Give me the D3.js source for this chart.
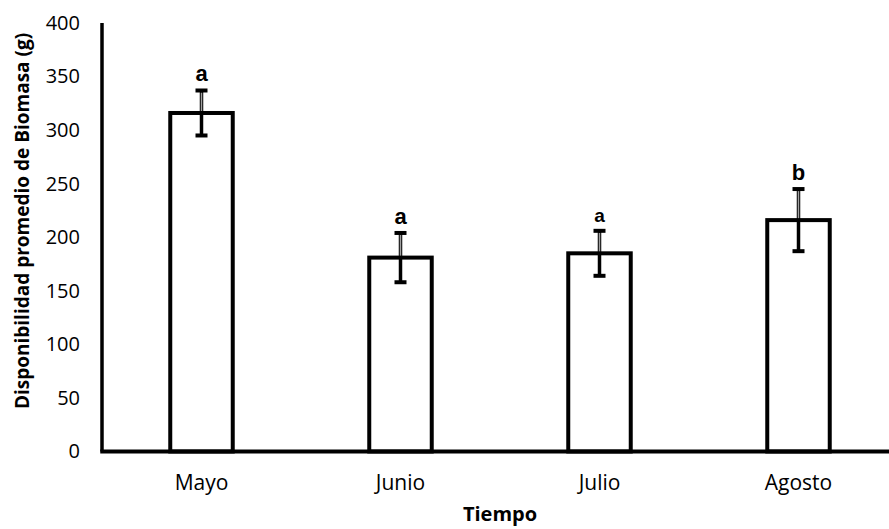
<!DOCTYPE html>
<html>
<head>
<meta charset="utf-8">
<script src="https://cdn.jsdelivr.net/npm/d3@7"></script>
<style>
  html, body { margin: 0; padding: 0; background: #fff; }
  svg { display: block; }
</style>
</head>
<body>
<svg id="chart" width="889" height="529"></svg>
<script>
// Monthly mean biomass availability with error bars and significance letters
const months = ["Mayo", "Junio", "Julio", "Agosto"];
const means = [316, 181, 185, 216];
const errors = [21, 23, 21, 29];
const letters = ["a", "a", "a", "b"];
const letterSizes = [22, 22, 19, 22];
const yTicks = [0, 50, 100, 150, 200, 250, 300, 350, 400];

const svg = d3.select("#chart");
const plotLeft = 102, plotRight = 898, plotTop = 23, plotBottom = 451.5;

const x = d3.scaleBand()
  .domain(months)
  .range([plotLeft, plotRight])
  .paddingInner(0.686)
  .paddingOuter(0.343);

const y = d3.scaleLinear().domain([0, 400]).range([plotBottom, plotTop]);

const labelFont = "'Open Sans', 'Noto Sans', sans-serif";

// Y axis: tick labels only, no tick marks
const yAxis = d3.axisLeft(y).tickValues(yTicks).tickSize(0).tickPadding(22);
const gy = svg.append("g").attr("transform", `translate(${plotLeft},0)`).call(yAxis);
gy.select(".domain").remove();
gy.selectAll("text")
  .attr("font-family", labelFont)
  .attr("font-size", 20)
  .attr("fill", "#000");

// X axis labels
const xAxis = d3.axisBottom(x).tickSize(0).tickPadding(24);
const gx = svg.append("g").attr("transform", `translate(0,${plotBottom})`).call(xAxis);
gx.select(".domain").remove();
gx.selectAll("text")
  .attr("font-family", labelFont)
  .attr("font-size", 21)
  .attr("fill", "#000");

// Bars
const bars = months.map((m, i) => ({ m, v: means[i], e: errors[i], l: letters[i], s: letterSizes[i] }));

svg.append("g").selectAll("rect")
  .data(bars)
  .join("rect")
  .attr("x", d => x(d.m))
  .attr("y", d => y(d.v))
  .attr("width", x.bandwidth())
  .attr("height", d => y(0) - y(d.v))
  .attr("fill", "#fff")
  .attr("stroke", "#000")
  .attr("stroke-width", 4);

// Error bars
const eb = svg.append("g").selectAll("g")
  .data(bars)
  .join("g")
  .attr("transform", d => `translate(${x(d.m) + x.bandwidth() / 2},0)`);

eb.append("line")
  .attr("y1", d => y(d.v + d.e))
  .attr("y2", d => y(d.v - d.e))
  .attr("stroke", "#000")
  .attr("stroke-width", 3.5);

eb.append("line")
  .attr("y1", d => y(d.v + d.e) + 2)
  .attr("y2", d => y(d.v) - 2)
  .attr("stroke", "#a0a0a0")
  .attr("stroke-width", 1.5);

eb.selectAll("line.cap")
  .data(d => [d.v + d.e, d.v - d.e])
  .join("line")
  .attr("class", "cap")
  .attr("x1", -6)
  .attr("x2", 6)
  .attr("y1", v => y(v))
  .attr("y2", v => y(v))
  .attr("stroke", "#000")
  .attr("stroke-width", 4);

// Significance letters
eb.append("text")
  .attr("y", d => y(d.v + d.e) - 9)
  .attr("text-anchor", "middle")
  .attr("font-family", "'Liberation Sans', Arial, sans-serif")
  .attr("font-weight", "bold")
  .attr("font-size", d => d.s)
  .text(d => d.l);

// Axis lines
svg.append("line")
  .attr("x1", plotLeft).attr("x2", plotLeft)
  .attr("y1", plotTop).attr("y2", plotBottom)
  .attr("stroke", "#000").attr("stroke-width", 3.5);
svg.append("line")
  .attr("x1", plotLeft - 1.75).attr("x2", 889)
  .attr("y1", plotBottom).attr("y2", plotBottom)
  .attr("stroke", "#000").attr("stroke-width", 4);

// Axis titles
svg.append("text")
  .attr("x", (plotLeft + plotRight) / 2)
  .attr("y", 521)
  .attr("text-anchor", "middle")
  .attr("font-family", labelFont)
  .attr("font-weight", "bold")
  .attr("font-size", 20)
  .text("Tiempo");

svg.append("text")
  .attr("transform", "translate(29,221) rotate(-90)")
  .attr("text-anchor", "middle")
  .attr("font-family", labelFont)
  .attr("font-weight", "bold")
  .attr("font-size", 19)
  .text("Disponibilidad promedio de Biomasa (g)");
</script>
</body>
</html>
